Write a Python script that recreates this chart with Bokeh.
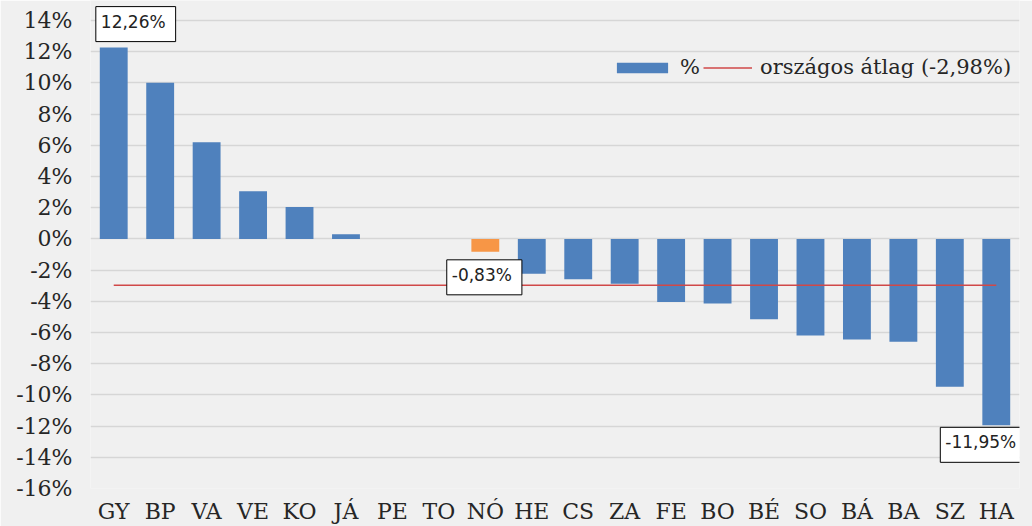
from bokeh.plotting import figure
from bokeh.models import FactorRange, FixedTicker, ColumnDataSource, Legend, LegendItem, Label, Range1d
from bokeh.embed import file_html
from bokeh.resources import INLINE

categories = ["GY", "BP", "VA", "VE", "KO", "JÁ", "PE", "TO", "NÓ", "HE",
              "CS", "ZA", "FE", "BO", "BÉ", "SO", "BÁ", "BA", "SZ", "HA"]
values = [12.26, 10.0, 6.2, 3.05, 2.05, 0.3, 0.0, 0.0, -0.83, -2.24,
          -2.58, -2.88, -4.05, -4.15, -5.15, -6.2, -6.45, -6.6, -9.48, -11.95]
average = -2.98
highlight = "NÓ"
y_ticks = [-16, -14, -12, -10, -8, -6, -4, -2, 0, 2, 4, 6, 8, 10, 12, 14]
y_tick_labels = ["-16%", "-14%", "-12%", "-10%", "-8%", "-6%", "-4%", "-2%",
                 "0%", "2%", "4%", "6%", "8%", "10%", "12%", "14%"]
series_name = "%"
average_name = "országos átlag (-2,98%)"

def fmt(v):
    return ("%.2f%%" % v).replace(".", ",")

BLUE = "#4f81bd"
ORANGE = "#f79646"
RED = "#d04848"
BG = "#f0f0f0"
SERIF = "DejaVu Serif"

# axis spans -16..14 over 469 px; frame extended 20 px above 14% so the top label fits
FRAME_H = 489
y_min, y_max = y_ticks[0], y_ticks[-1]
y_top = y_max + 20 * (y_max - y_min) / (FRAME_H - 20)

colors = [ORANGE if c == highlight else BLUE for c in categories]
src = ColumnDataSource(dict(x=categories, top=values, color=colors))

p = figure(width=1032, height=526, x_range=FactorRange(*categories, range_padding=0),
           y_range=Range1d(y_min, y_top), output_backend="svg", toolbar_location=None,
           background_fill_color=BG, border_fill_color=BG,
           min_border_left=90, min_border_right=13, min_border_top=0, min_border_bottom=37)
p.outline_line_color = None

bars = p.vbar(x="x", top="top", width=0.6, fill_color="color", line_color=None, source=src)
avg_line = p.line(x=[categories[0], categories[-1]], y=[average, average],
                  line_color=RED, line_width=1.5)

p.xgrid.grid_line_color = None
p.ygrid.grid_line_color = "#d6d6d6"
p.ygrid.grid_line_width = 1.5
p.yaxis.ticker = FixedTicker(ticks=y_ticks)
p.yaxis.major_label_overrides = {t: l for t, l in zip(y_ticks, y_tick_labels)}
for ax in (p.xaxis[0], p.yaxis[0]):
    ax.axis_line_color = None
    ax.major_tick_line_color = None
    ax.minor_tick_line_color = None
    ax.major_tick_out = 0
    ax.major_tick_in = 0
    ax.major_label_text_font = SERIF
    ax.major_label_text_font_size = "22px"
    ax.major_label_text_color = "#262626"
p.yaxis.major_label_standoff = 18
p.xaxis.major_label_standoff = 10

# data labels; x is the factor's synthetic coordinate (centre of its slot)
label_specs = [
    (0, "bottom_center", 22, 6),
    (8, "top_center", -1, -8),
    (19, "top_center", -13, -2),
]
for idx, anchor, xo, yo in label_specs:
    p.add_layout(Label(x=idx + 0.5, y=values[idx], text=fmt(values[idx]),
                       anchor=anchor, x_offset=xo, y_offset=yo,
                       text_font="DejaVu Sans", text_font_size="17px", text_color="#222222",
                       background_fill_color="white", border_line_color="black",
                       border_line_width=1, padding=[5, 10, 5, 10]))

legend1 = Legend(items=[LegendItem(label=series_name, renderers=[bars])],
                 orientation="horizontal", location=(520, 409),
                 glyph_width=64, glyph_height=13, label_standoff=6, spacing=0,
                 padding=0, margin=0, background_fill_alpha=0, border_line_alpha=0,
                 label_text_font=SERIF, label_text_font_size="21px",
                 label_text_color="#262626")
legend2 = Legend(items=[LegendItem(label=average_name, renderers=[avg_line])],
                 orientation="horizontal", location=(613, 409),
                 glyph_width=49, glyph_height=13, label_standoff=8, spacing=0,
                 padding=0, margin=0, background_fill_alpha=0, border_line_alpha=0,
                 label_text_font=SERIF, label_text_font_size="21px",
                 label_text_color="#262626")
p.add_layout(legend1, "center")
p.add_layout(legend2, "center")

open("out.html", "w").write(file_html(p, INLINE))
